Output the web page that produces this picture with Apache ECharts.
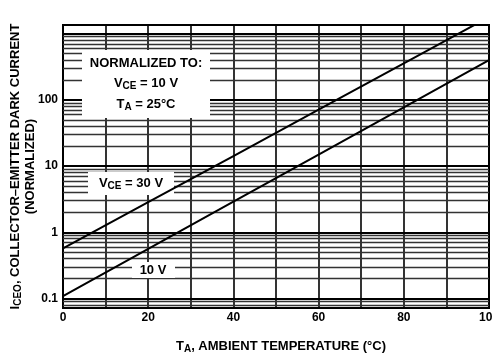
<!DOCTYPE html>
<html><head><meta charset="utf-8">
<script src="https://cdn.jsdelivr.net/npm/echarts@6/dist/echarts.min.js"></script>
<style>html,body{margin:0;padding:0;background:#fff}#c{width:492px;height:354px}</style>
</head><body><div id="c"></div>
<script>
// ---- data ----
const temps = [0, 20, 40, 60, 80, 100];             // T_A (°C)
const vce30 = [0.57, 2.85, 14.2, 71, 355, 1780];     // V_CE = 30 V
const vce10 = [0.109, 0.56, 2.9, 14.9, 77, 398];     // V_CE = 10 V
const xTickLabels = ['0', '20', '40', '60', '80', '100'];
const yTickValues = [0.1, 1, 10, 100];
const yTickLabels = ['0.1', '1', '10', '100'];
const yMin = 0.072, yMax = 1350;

// log grid lines (1..9 per decade)
const minorGrid = [], majorGrid = [];
[0.01, 0.1, 1, 10, 100, 1000].forEach(d => {
  for (let k = 1; k <= 9; k++) {
    const v = d * k;
    if (v > yMin && v < yMax) (k === 1 ? majorGrid : minorGrid).push(v);
  }
});

const FONT = 'Liberation Sans';
const chart = echarts.init(document.getElementById('c'), null, {renderer: 'canvas'});
const lineStyle = {color: '#000', width: 2};
chart.setOption({
  animation: false,
  grid: {left: 63, right: 3, top: 25, bottom: 46, outerBoundsMode: 'none', containLabel: false,
         show: true, borderColor: '#000', borderWidth: 2, backgroundColor: '#fff', z: 0},
  xAxis: {
    type: 'value', min: 0, max: 100, interval: 10,
    axisLine: {show: true, onZero: false, lineStyle: {color: '#000', width: 2}},
    axisTick: {show: false},
    splitLine: {show: true, lineStyle: {color: '#000', width: 1.6}},
    axisLabel: {
      margin: 4, color: '#000', fontFamily: FONT, fontWeight: 'bold', fontSize: 12, hideOverlap: false,
      formatter: v => { const i = temps.indexOf(v); return i >= 0 ? xTickLabels[i] : ''; }
    },
    name: '{t|T}{s|A}{t|, AMBIENT TEMPERATURE (°C)}',
    nameLocation: 'middle', nameGap: 30, nameMoveOverlap: false,
    nameTextStyle: {
      color: '#000', fontFamily: FONT, fontWeight: 'bold', fontSize: 13, padding: [0, 0, 0, 10],
      rich: {
        t: {fontFamily: FONT, fontWeight: 'bold', fontSize: 13, color: '#000'},
        s: {fontFamily: FONT, fontWeight: 'bold', fontSize: 10, color: '#000', padding: [6, 0, 0, 0]}
      }
    }
  },
  yAxis: {
    type: 'log', logBase: 10, min: yMin, max: yMax,
    axisLine: {show: true, lineStyle: {color: '#000', width: 2}},
    axisTick: {show: false},
    splitLine: {show: false},
    axisLabel: {
      margin: 5, color: '#000', fontFamily: FONT, fontWeight: 'bold', fontSize: 12,
      formatter: v => {
        for (let i = 0; i < yTickValues.length; i++) {
          if (Math.abs(Math.log10(v) - Math.log10(yTickValues[i])) < 1e-6) return yTickLabels[i];
        }
        return '';
      }
    },
    name: '{t|I}{s|CEO}{t|, COLLECTOR–EMITTER DARK CURRENT}\n{t|(NORMALIZED)}',
    nameLocation: 'middle', nameRotate: 90, nameGap: 25, nameMoveOverlap: false,
    nameTextStyle: {
      color: '#000', fontFamily: FONT, fontWeight: 'bold', fontSize: 13, lineHeight: 15,
      rich: {
        t: {fontFamily: FONT, fontWeight: 'bold', fontSize: 13, color: '#000', lineHeight: 15},
        s: {fontFamily: FONT, fontWeight: 'bold', fontSize: 10, color: '#000', padding: [6, 0, 0, 0], lineHeight: 15}
      }
    }
  },
  series: [
    {
      type: 'line', data: [], z: 1,
      markLine: {
        silent: true, symbol: 'none', z: 1, animation: false,
        label: {show: false},
        data: minorGrid.map(v => ({yAxis: v, lineStyle: {color: '#333', width: 1.3, type: 'solid'}}))
          .concat(majorGrid.map(v => ({yAxis: v, lineStyle: {color: '#000', width: 2, type: 'solid'}})))
      }
    },
    {type: 'line', name: '30 V', data: temps.map((t, i) => [t, vce30[i]]), showSymbol: false, symbol: 'none', lineStyle, z: 10, clip: true},
    {type: 'line', name: '10 V', data: temps.map((t, i) => [t, vce10[i]]), showSymbol: false, symbol: 'none', lineStyle, z: 10, clip: true}
  ],
  graphic: [
    {type: 'rect', z: 5, shape: {x: 82, y: 50, width: 128, height: 68}, style: {fill: '#fff'}},
    {type: 'text', z: 6, x: 146, y: 63, style: {text: 'NORMALIZED TO:', fill: '#000', font: 'bold 13px ' + FONT, align: 'center', verticalAlign: 'middle'}},
    {type: 'text', z: 6, x: 146, y: 83, style: {
      text: '{t|V}{s|CE}{t| = 10 V}', align: 'center', verticalAlign: 'middle',
      rich: {t: {font: 'bold 13px ' + FONT, fill: '#000'}, s: {font: 'bold 10px ' + FONT, fill: '#000', padding: [6, 0, 0, 0]}}}},
    {type: 'text', z: 6, x: 146, y: 104, style: {
      text: '{t|T}{s|A}{t| = 25°C}', align: 'center', verticalAlign: 'middle',
      rich: {t: {font: 'bold 13px ' + FONT, fill: '#000'}, s: {font: 'bold 10px ' + FONT, fill: '#000', padding: [6, 0, 0, 0]}}}},
    {type: 'rect', z: 5, shape: {x: 88, y: 172, width: 86, height: 23}, style: {fill: '#fff'}},
    {type: 'text', z: 6, x: 131, y: 183, style: {
      text: '{t|V}{s|CE}{t| = 30 V}', align: 'center', verticalAlign: 'middle',
      rich: {t: {font: 'bold 13px ' + FONT, fill: '#000'}, s: {font: 'bold 10px ' + FONT, fill: '#000', padding: [6, 0, 0, 0]}}}},
    {type: 'rect', z: 5, shape: {x: 132, y: 262, width: 43, height: 16}, style: {fill: '#fff'}},
    {type: 'text', z: 6, x: 153, y: 270, style: {text: '10 V', fill: '#000', font: 'bold 13px ' + FONT, align: 'center', verticalAlign: 'middle'}}
  ]
});
</script></body></html>
